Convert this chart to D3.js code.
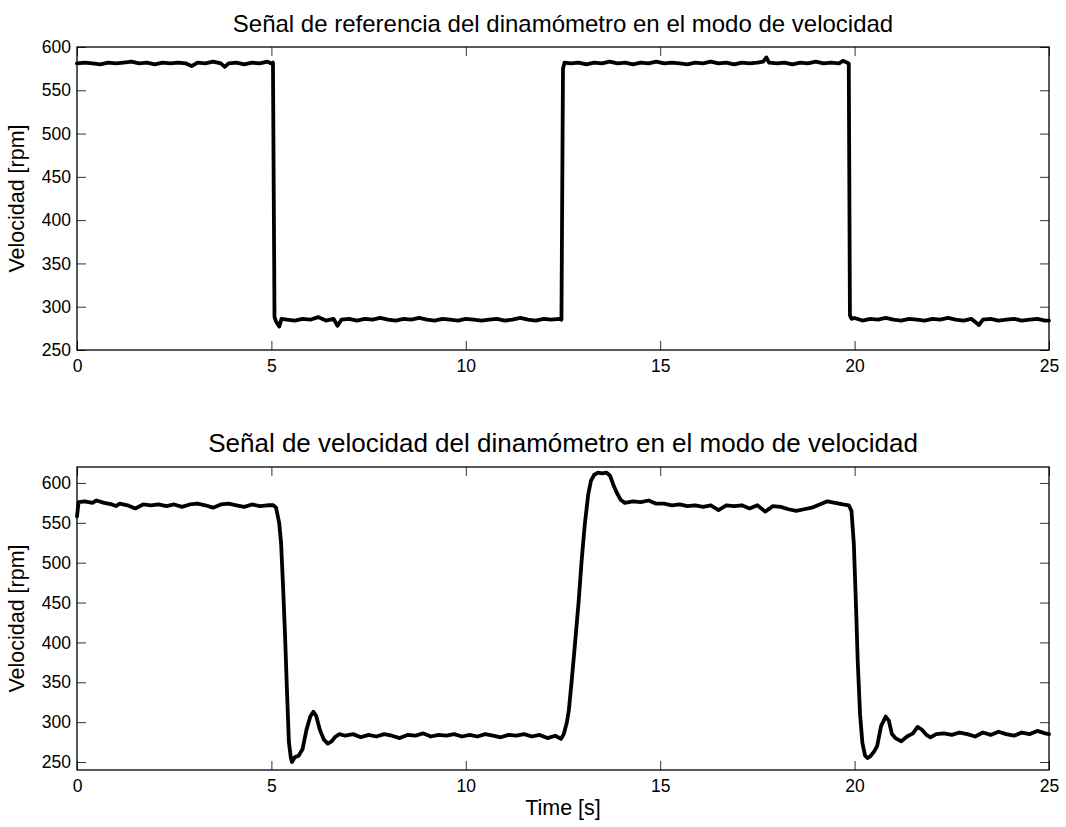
<!DOCTYPE html>
<html>
<head>
<meta charset="utf-8">
<script src="https://cdn.jsdelivr.net/npm/d3@7"></script>
<style>
  body { margin: 0; background: #fff; }
  text { font-family: "Liberation Sans", Arial, Helvetica, sans-serif; fill: #000; }
</style>
</head>
<body>
<script>
//Width and height
var w = 1066;
var h = 827;

// x ticks shared by both panels
var timeTicks = [0, 5, 10, 15, 20, 25];

// reference signal [time s, speed rpm]
var refSignal = [
  [0, 581], [0.2, 582], [0.4, 581], [0.6, 580], [0.8, 582], [1.0, 581], [1.2, 582],
  [1.4, 583], [1.6, 581], [1.8, 582], [2.0, 580], [2.2, 582], [2.4, 581], [2.6, 582],
  [2.8, 581], [2.95, 578], [3.1, 582], [3.3, 581], [3.5, 583], [3.7, 581], [3.8, 577],
  [3.9, 581], [4.1, 582], [4.3, 580], [4.5, 582], [4.7, 581], [4.9, 583], [5.0, 581],
  [5.04, 582], [5.08, 288], [5.12, 283], [5.2, 277], [5.26, 286], [5.4, 285], [5.6, 284],
  [5.8, 286], [6.0, 285], [6.2, 288], [6.4, 284], [6.6, 286], [6.7, 278], [6.8, 285],
  [7.0, 286], [7.2, 284], [7.4, 286], [7.6, 285], [7.8, 287], [8.0, 285], [8.2, 284],
  [8.4, 286], [8.6, 285], [8.8, 287], [9.0, 285], [9.2, 284], [9.4, 286], [9.6, 285],
  [9.8, 284], [10.0, 286], [10.2, 285], [10.4, 284], [10.6, 285], [10.8, 286], [11.0, 284],
  [11.2, 285], [11.4, 287], [11.6, 285], [11.8, 284], [12.0, 286], [12.2, 285], [12.4, 286],
  [12.46, 285], [12.5, 575], [12.54, 582], [12.7, 581], [12.9, 582], [13.1, 580], [13.3, 582],
  [13.5, 581], [13.7, 583], [13.9, 581], [14.1, 582], [14.3, 580], [14.5, 582], [14.7, 581],
  [14.9, 583], [15.1, 581], [15.3, 582], [15.5, 581], [15.7, 580], [15.9, 582], [16.1, 581],
  [16.3, 583], [16.5, 581], [16.7, 582], [16.9, 580], [17.1, 582], [17.3, 581], [17.5, 582],
  [17.65, 583], [17.73, 588], [17.8, 582], [18.0, 581], [18.2, 582], [18.4, 580], [18.6, 582],
  [18.8, 581], [19.0, 583], [19.2, 581], [19.4, 582], [19.6, 581], [19.7, 584], [19.8, 582],
  [19.85, 581], [19.88, 290], [19.92, 286], [20.0, 287], [20.2, 284], [20.4, 286], [20.6, 285],
  [20.8, 287], [21.0, 285], [21.2, 284], [21.4, 286], [21.6, 285], [21.8, 284], [22.0, 286],
  [22.2, 285], [22.4, 287], [22.6, 285], [22.8, 284], [23.0, 286], [23.2, 279], [23.3, 285],
  [23.5, 286], [23.7, 284], [23.9, 285], [24.1, 286], [24.3, 284], [24.5, 285], [24.7, 286],
  [24.9, 284], [25.0, 284]
];

// measured dynamometer speed [time s, speed rpm]
var speedSignal = [
  [0, 558], [0.04, 576], [0.2, 577], [0.4, 575], [0.5, 578], [0.7, 575], [0.9, 573],
  [1.0, 571], [1.1, 574], [1.3, 572], [1.5, 568], [1.7, 573], [1.9, 572], [2.1, 573],
  [2.3, 571], [2.5, 573], [2.7, 570], [2.9, 573], [3.1, 574], [3.3, 572], [3.5, 569],
  [3.7, 573], [3.9, 574], [4.1, 572], [4.3, 570], [4.5, 573], [4.7, 571], [4.9, 572],
  [5.05, 572], [5.12, 569], [5.2, 550], [5.25, 524], [5.3, 470], [5.35, 410], [5.4, 340],
  [5.45, 275], [5.5, 255], [5.53, 250], [5.6, 256], [5.7, 258], [5.8, 266], [5.9, 290],
  [6.0, 307], [6.08, 313], [6.15, 308], [6.25, 290], [6.35, 278], [6.45, 273], [6.55, 276],
  [6.65, 282], [6.75, 285], [6.9, 283], [7.1, 285], [7.3, 281], [7.5, 284], [7.7, 282],
  [7.9, 285], [8.1, 283], [8.3, 280], [8.5, 284], [8.7, 283], [8.9, 286], [9.1, 282],
  [9.3, 284], [9.5, 283], [9.7, 285], [9.9, 282], [10.1, 284], [10.3, 282], [10.5, 285],
  [10.7, 283], [10.9, 281], [11.1, 284], [11.3, 283], [11.5, 285], [11.7, 282], [11.9, 284],
  [12.1, 280], [12.3, 283], [12.45, 279], [12.52, 285], [12.6, 300], [12.65, 315],
  [12.72, 350], [12.81, 399], [12.9, 450], [12.98, 503], [13.06, 548], [13.15, 586],
  [13.22, 603], [13.3, 610], [13.4, 613], [13.5, 612], [13.62, 613], [13.71, 609],
  [13.8, 597], [13.88, 588], [13.98, 579], [14.09, 575], [14.3, 577], [14.5, 576],
  [14.7, 578], [14.9, 574], [15.1, 574], [15.3, 572], [15.5, 573], [15.7, 571], [15.9, 572],
  [16.1, 570], [16.3, 572], [16.5, 566], [16.7, 572], [16.9, 571], [17.1, 572], [17.3, 568],
  [17.5, 572], [17.7, 564], [17.9, 571], [18.1, 570], [18.3, 567], [18.5, 565], [18.7, 567],
  [18.9, 569], [19.1, 573], [19.3, 577], [19.5, 575], [19.7, 573], [19.85, 572],
  [19.92, 565], [19.98, 524], [20.04, 440], [20.08, 377], [20.14, 310], [20.2, 274],
  [20.27, 258], [20.33, 255], [20.4, 257], [20.5, 263], [20.58, 270], [20.68, 295],
  [20.8, 307], [20.88, 302], [20.96, 285], [21.05, 280], [21.2, 276], [21.35, 282],
  [21.5, 286], [21.62, 294], [21.72, 291], [21.85, 284], [21.95, 281], [22.1, 285],
  [22.3, 286], [22.5, 284], [22.7, 287], [22.9, 285], [23.1, 282], [23.3, 287], [23.5, 284],
  [23.7, 288], [23.9, 285], [24.1, 283], [24.3, 287], [24.5, 285], [24.7, 289], [24.9, 286],
  [25.0, 285]
];

var refTicks = [250, 300, 350, 400, 450, 500, 550, 600];
var speedTicks = [250, 300, 350, 400, 450, 500, 550, 600];

var titles = [
  "Señal de referencia del dinamómetro en el modo de velocidad",
  "Señal de velocidad del dinamómetro en el modo de velocidad"
];

var left = 77, right = 1049;

//Create SVG element
var svg = d3.select("body").append("svg").attr("width", w).attr("height", h);

function drawPanel(data, top, bottom, yDomain, yTicks, title, titleSize, xLabel) {
  var xScale = d3.scaleLinear().domain([0, 25]).range([left, right]);
  var yScale = d3.scaleLinear().domain(yDomain).range([bottom, top]);
  var tl = 9;

  var g = svg.append("g");

  // inward ticks, all four sides
  g.append("g").attr("transform", "translate(0," + bottom + ")")
    .call(d3.axisBottom(xScale).tickValues(timeTicks).tickSize(-tl).tickPadding(10));
  g.append("g").attr("transform", "translate(0," + top + ")")
    .call(d3.axisTop(xScale).tickValues(timeTicks).tickSize(-tl).tickFormat(""));
  g.append("g").attr("transform", "translate(" + left + ",0)")
    .call(d3.axisLeft(yScale).tickValues(yTicks).tickSize(-tl).tickPadding(6));
  g.append("g").attr("transform", "translate(" + right + ",0)")
    .call(d3.axisRight(yScale).tickValues(yTicks).tickSize(-tl).tickFormat(""));

  g.selectAll(".domain").remove();
  g.selectAll(".tick line").attr("stroke", "#333").attr("stroke-width", 1);
  g.selectAll(".tick text").attr("font-size", "17.5px")
    .attr("font-family", "'Liberation Sans', Arial, sans-serif");

  // box
  g.append("rect")
    .attr("x", left).attr("y", top)
    .attr("width", right - left).attr("height", bottom - top)
    .attr("fill", "none").attr("stroke", "#000").attr("stroke-width", 1.3);

  var line = d3.line()
    .x(function (d) { return xScale(d[0]); })
    .y(function (d) { return yScale(d[1]); });

  g.append("path")
    .datum(data)
    .attr("d", line)
    .attr("fill", "none")
    .attr("stroke", "#000")
    .attr("stroke-width", 3.8)
    .attr("stroke-linejoin", "round")
    .attr("stroke-linecap", "round");

  g.append("text")
    .attr("x", (left + right) / 2)
    .attr("y", top - 15)
    .attr("text-anchor", "middle")
    .attr("font-size", titleSize)
    .text(title);

  g.append("text")
    .attr("transform", "translate(24," + (top + bottom) / 2 + ") rotate(-90)")
    .attr("text-anchor", "middle")
    .attr("font-size", "21.5px")
    .text("Velocidad [rpm]");

  if (xLabel) {
    g.append("text")
      .attr("x", (left + right) / 2)
      .attr("y", bottom + 45)
      .attr("text-anchor", "middle")
      .attr("font-size", "21.5px")
      .text(xLabel);
  }
}

drawPanel(refSignal, 47, 350, [250, 600], refTicks, titles[0], "24px", null);
drawPanel(speedSignal, 467, 770, [240, 620], speedTicks, titles[1], "26px", "Time [s]");
</script>
</body>
</html>
